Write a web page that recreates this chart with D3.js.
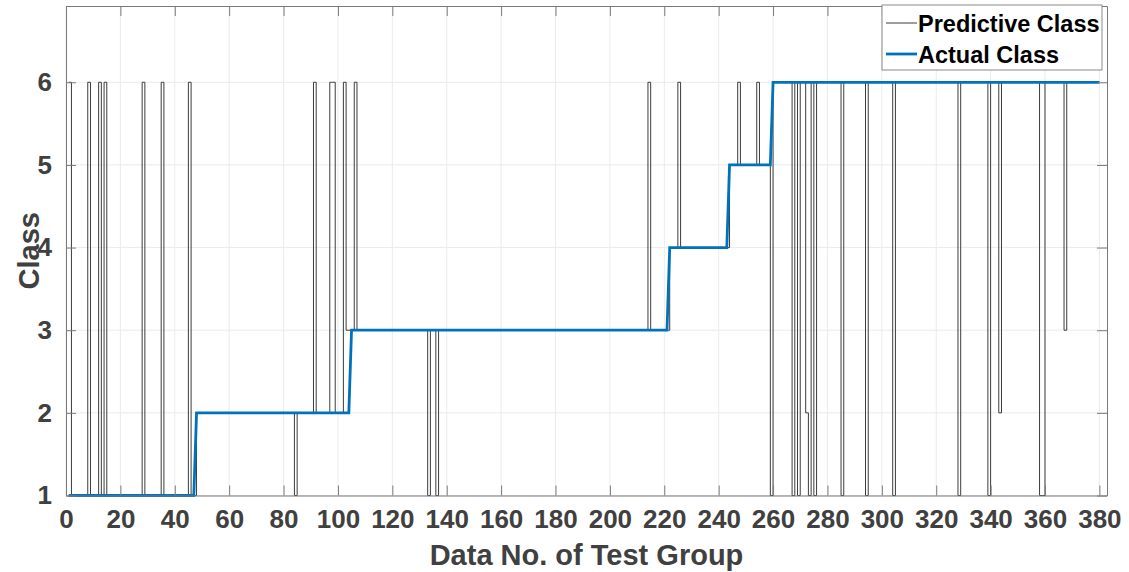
<!DOCTYPE html>
<html>
<head>
<meta charset="utf-8">
<script src="https://cdn.jsdelivr.net/npm/d3@7"></script>
<style>
    body { margin: 0; background: #fff; }
    text { font-family: "Liberation Sans", Arial, sans-serif; font-weight: bold; }
</style>
</head>
<body>
<div id="canvas"></div>
<script>
// actual class: first test index of every run and its class
const actualStarts = [1, 48, 105, 222, 244, 260];
const actualClasses = [1, 2, 3, 4, 5, 6];
const lastIndex = 380;

// predictive class: the test indices where it differs from the actual class
const missIndex = [1, 8, 12, 14, 28, 35, 45,
    84, 91, 97, 98, 102, 103, 104, 106,
    133, 136, 214, 225, 247, 254,
    259, 267, 269, 272, 273, 275, 285, 294, 304,
    328, 339, 343, 358, 359, 367];
const missClass = [6, 6, 6, 6, 6, 6, 6,
    1, 6, 6, 6, 6, 3, 3, 6,
    1, 1, 6, 6, 6, 6,
    1, 1, 1, 2, 1, 1, 1, 1, 1,
    1, 1, 2, 1, 1, 3];

const xTicks = [0, 20, 40, 60, 80, 100, 120, 140, 160, 180, 200, 220, 240, 260, 280, 300, 320, 340, 360, 380];
const yTicks = [1, 2, 3, 4, 5, 6];

const width = 1129, height = 572;
const pLeft = 66, pRight = 1107, pTop = 6, pBottom = 495.5;
const textColor = '#404040', axisColor = '#7a7a7a';

// run-length lists -> one point per test index
let data = [];
for (let i = 1; i <= lastIndex; i++) {
    let run = d3.bisectRight(actualStarts, i) - 1;
    let actual = actualClasses[run];
    let m = missIndex.indexOf(i);
    data.push({ i: i, actual: actual, pred: m >= 0 ? missClass[m] : actual });
}

let x = d3.scaleLinear().domain([0, 382.8]).range([pLeft, pRight]);
let y = d3.scaleLinear().domain([1, 6.923]).range([pBottom, pTop]);

let svg = d3.select('#canvas').append('svg')
    .attr('width', width)
    .attr('height', height);

// grid
svg.append('g').selectAll('line').data(xTicks).enter().append('line')
    .attr('x1', d => x(d)).attr('x2', d => x(d))
    .attr('y1', pTop).attr('y2', pBottom)
    .attr('stroke', '#ebebeb');
svg.append('g').selectAll('line').data(yTicks).enter().append('line')
    .attr('y1', d => y(d)).attr('y2', d => y(d))
    .attr('x1', pLeft).attr('x2', pRight)
    .attr('stroke', '#ebebeb');

// lines
svg.append('path').datum(data)
    .attr('fill', 'none')
    .attr('stroke', '#3c3c3c')
    .attr('stroke-width', 1)
    .attr('d', d3.line().x(d => x(d.i)).y(d => y(d.pred)).curve(d3.curveStepAfter));

svg.append('path').datum(data)
    .attr('fill', 'none')
    .attr('stroke', '#0072BD')
    .attr('stroke-width', 2.8)
    .attr('d', d3.line().x(d => x(d.i)).y(d => y(d.actual)));

// axes, ticks pointing inwards
svg.append('g').attr('class', 'axis')
    .attr('transform', 'translate(0,' + pBottom + ')')
    .call(d3.axisBottom(x).tickValues(xTicks).tickSizeInner(-10).tickSizeOuter(0).tickPadding(14));
svg.append('g').attr('class', 'axis')
    .attr('transform', 'translate(0,' + pTop + ')')
    .call(d3.axisTop(x).tickValues(xTicks).tickSizeInner(-10).tickSizeOuter(0).tickFormat(''));
svg.append('g').attr('class', 'axis')
    .attr('transform', 'translate(' + pLeft + ',0)')
    .call(d3.axisLeft(y).tickValues(yTicks).tickFormat(d3.format('d'))
        .tickSizeInner(-10).tickSizeOuter(0).tickPadding(14));
svg.append('g').attr('class', 'axis')
    .attr('transform', 'translate(' + pRight + ',0)')
    .call(d3.axisRight(y).tickValues(yTicks).tickSizeInner(-10).tickSizeOuter(0).tickFormat(''));

svg.selectAll('.axis path, .axis line').attr('stroke', axisColor);
svg.selectAll('.axis text')
    .attr('fill', textColor)
    .style('font-size', '26px')
    .style('font-family', '"Liberation Sans", Arial, sans-serif')
    .style('font-weight', 'bold');

// axis titles
svg.append('text')
    .attr('x', (pLeft + pRight) / 2).attr('y', 565)
    .attr('text-anchor', 'middle')
    .attr('fill', textColor)
    .style('font-size', '29px')
    .text('Data No. of Test Group');
svg.append('text')
    .attr('transform', 'translate(39,' + ((pTop + pBottom) / 2) + ') rotate(-90)')
    .attr('text-anchor', 'middle')
    .attr('fill', textColor)
    .style('font-size', '29px')
    .text('Class');

// legend
let legend = svg.append('g');
legend.append('rect')
    .attr('x', 882).attr('y', 5).attr('width', 220).attr('height', 65)
    .attr('fill', '#fff').attr('stroke', '#8a8a8a');
let entries = [
    { name: 'Predictive Class', color: '#3c3c3c', w: 1 },
    { name: 'Actual Class', color: '#0072BD', w: 2.8 }
];
entries.forEach(function(e, k) {
    let cy = 23 + k * 31;
    legend.append('line')
        .attr('x1', 886).attr('x2', 917).attr('y1', cy).attr('y2', cy)
        .attr('stroke', e.color).attr('stroke-width', e.w);
    legend.append('text')
        .attr('x', 918).attr('y', cy + 8.5)
        .attr('fill', '#000')
        .style('font-size', '23.5px')
        .text(e.name);
});
</script>
</body>
</html>
